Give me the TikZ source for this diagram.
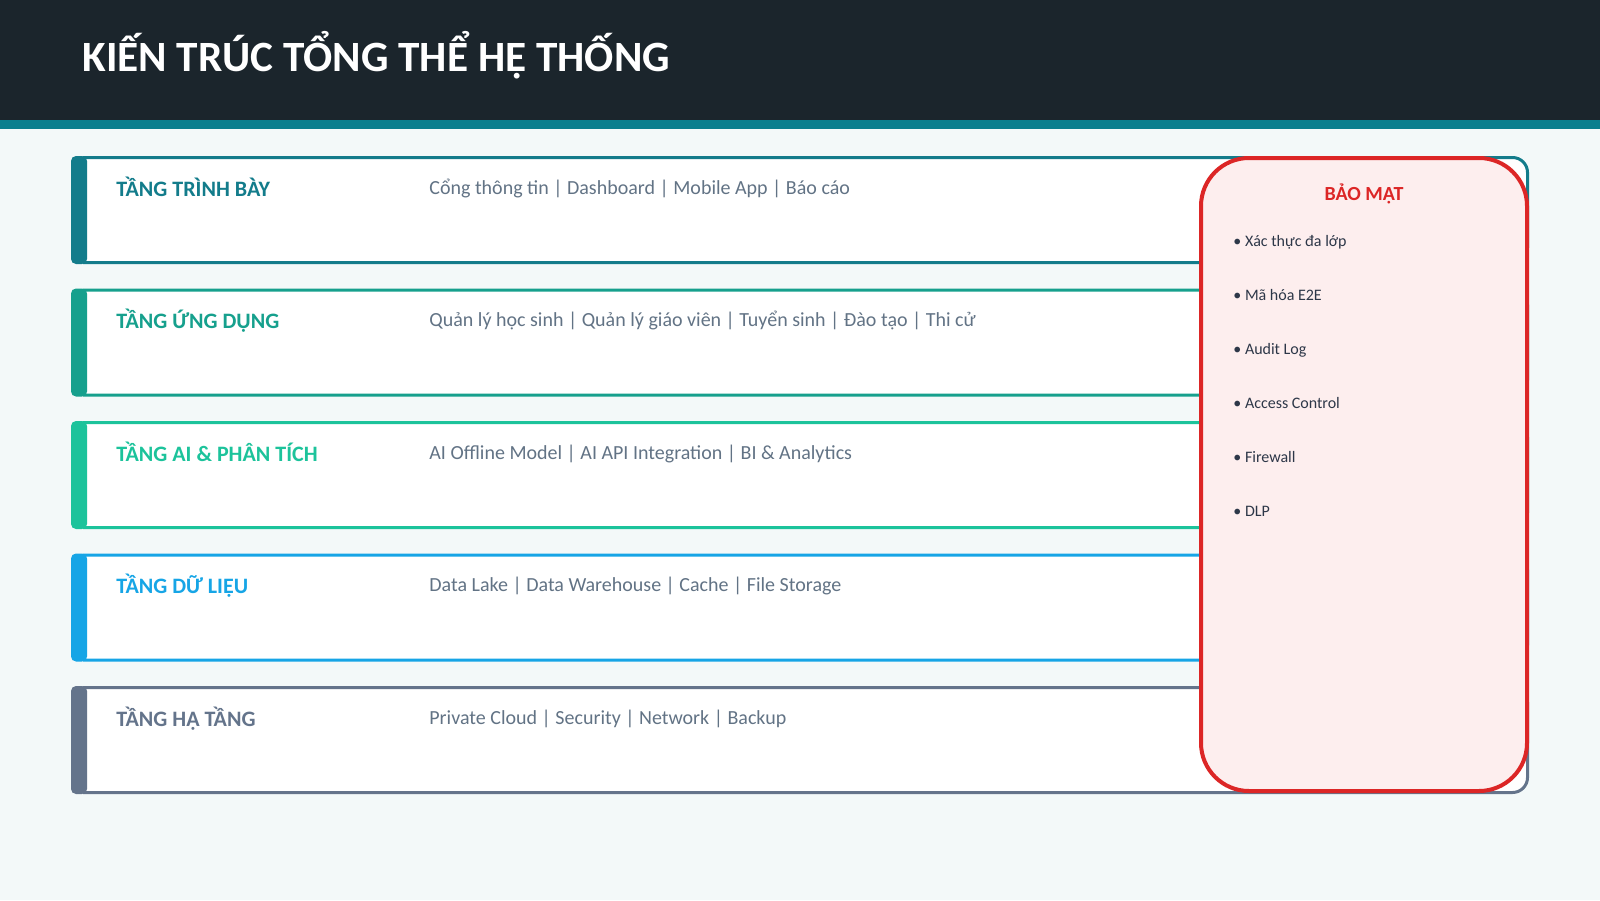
\documentclass[tikz,border=0pt]{standalone}
\usepackage{fontspec}
\setmainfont{Carlito}
\definecolor{cHead}{HTML}{1B252C}
\definecolor{cStripe}{HTML}{0A7F8E}
\definecolor{cBg}{HTML}{F3F9F9}
\definecolor{cTrinhBay}{HTML}{137C8B}
\definecolor{cUngDung}{HTML}{16A08D}
\definecolor{cPhanTich}{HTML}{1CC39B}
\definecolor{cDuLieu}{HTML}{16A5E6}
\definecolor{cHaTang}{HTML}{64748B}
\definecolor{cMoTa}{HTML}{627385}
\definecolor{cDo}{HTML}{DC2626}
\definecolor{cDoNhat}{HTML}{FDEEEE}
\definecolor{cChu}{HTML}{2D3748}
\tikzset{
  tentang/.style={anchor=base west, inner sep=0pt, font=\fontsize{11}{13}\selectfont\bfseries},
  motatang/.style={anchor=base west, inner sep=0pt, text=cMoTa, font=\fontsize{10}{12}\selectfont},
  mucbm/.style={anchor=base west, inner sep=0pt, text=cChu, font=\fontsize{8}{10}\selectfont}
}
\begin{document}
\begin{tikzpicture}[x=0.5pt, y=-0.5pt]
\useasboundingbox (0,0) rectangle (1600,900);
\fill[cBg] (0,0) rectangle (1600,900);
% header
\fill[cHead] (0,0) rectangle (1600,120);
\fill[cStripe] (0,120) rectangle (1600,129);
\node[anchor=base west, inner sep=0pt, text=white, font=\fontsize{21.6}{26}\selectfont\bfseries] (tieude) at (82,71) {KIẾN TRÚC TỔNG THỂ HỆ THỐNG};
% cac tang
\foreach \i/\col/\ten/\mota [evaluate=\i as \t using {156+132.5*\i}] in {
  0/cTrinhBay/{TẦNG TRÌNH BÀY}/{Cổng thông tin | Dashboard | Mobile App | Báo cáo},
  1/cUngDung/{TẦNG ỨNG DỤNG}/{Quản lý học sinh | Quản lý giáo viên | Tuyển sinh | Đào tạo | Thi cử},
  2/cPhanTich/{TẦNG AI \& PHÂN TÍCH}/{AI Offline Model | AI API Integration | BI \& Analytics},
  3/cDuLieu/{TẦNG DỮ LIỆU}/{Data Lake | Data Warehouse | Cache | File Storage},
  4/cHaTang/{TẦNG HẠ TẦNG}/{Private Cloud | Security | Network | Backup}}{
  \draw[\col, line width=1.5pt, fill=white] (84.5,\t+1.5) [rounded corners=7.5pt] -- (1527.5,\t+1.5) -- (1527.5,\t+106.5) [sharp corners] -- (84.5,\t+106.5) -- cycle;
  \fill[\col, rounded corners=2.5pt] (71,\t) rectangle (87,\t+108);
  \node[tentang, text=\col] (ten\i) at (116,\t+40) {\ten};
  \node[motatang] (mota\i) at (429,\t+38) {\mota};
}
% bao mat
\draw[cDo, line width=2pt, fill=cDoNhat, rounded corners=24pt] (1201,158) rectangle (1527,791);
\node[anchor=base, inner sep=0pt, text=cDo, font=\fontsize{10}{12}\selectfont\bfseries] (baomat) at (1364,200) {BẢO MẬT};
\foreach \j/\muc in {0/Xác thực đa lớp, 1/Mã hóa E2E, 2/Audit Log, 3/Access Control, 4/Firewall, 5/DLP}
  \node[mucbm] (muc\j) at (1233,246+54*\j) {• \muc};
\end{tikzpicture}
\end{document}
